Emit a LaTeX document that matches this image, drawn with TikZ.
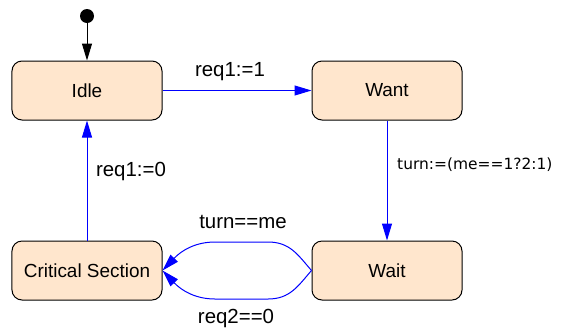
\documentclass[tikz,border=0pt]{standalone}
\usepackage{fontspec}
\setmainfont{Liberation Sans}
\newfontfamily\smallfont{DejaVu Sans}
\usetikzlibrary{arrows.meta}
\definecolor{boxfill}{RGB}{255,230,205}
\begin{document}
\begin{tikzpicture}[x=1bp,y=-1bp,
  state/.style={draw=black,fill=boxfill,rounded corners=10bp,line width=1bp,
    minimum width=150bp,minimum height=59bp,inner sep=0pt,
    font=\fontsize{19}{22}\selectfont},
  tip/.style={-{Triangle[length=17bp,width=10bp]}},
  trans/.style={draw=blue,line width=1bp,tip},
  lbl/.style={font=\fontsize{20.5}{24}\selectfont,inner sep=0pt}]
\useasboundingbox (0,0) rectangle (570,329);
\node[circle,fill=black,minimum size=14bp,inner sep=0pt] (init) at (87,16) {};
\node[state] (idle) at (87,90.5) {Idle};
\node[state] (want) at (387,90.5) {Want};
\node[state] (cs) at (87,270.5) {Critical Section};
\node[state] (wait) at (387,270.5) {Wait};
\draw[line width=1bp,tip] (init) -- (idle);
\draw[trans] (idle) -- (want);
\draw[trans] (want) -- (wait);
\draw[trans] (cs) -- (idle);
\draw[trans] (wait.west) .. controls (298,255) and (290,242) .. (268,242)
  -- (215,242) .. controls (196,242) and (182,250) .. (cs.east);
\draw[trans] (wait.west) .. controls (298,286) and (290,299) .. (268,299)
  -- (215,299) .. controls (196,299) and (182,291) .. (cs.east);
\node[lbl] (l1) at (230,72) {req1:=1};
\node[lbl] (l2) at (131,171) {req1:=0};
\node[lbl] (l3) at (243,222) {turn==me};
\node[lbl] (l4) at (236,318) {req2==0};
\node[anchor=west,inner sep=0pt,font=\smallfont\fontsize{15.5}{18}\selectfont] (l5) at (397,165) {turn:=(me==1?2:1)};
\end{tikzpicture}
\end{document}
